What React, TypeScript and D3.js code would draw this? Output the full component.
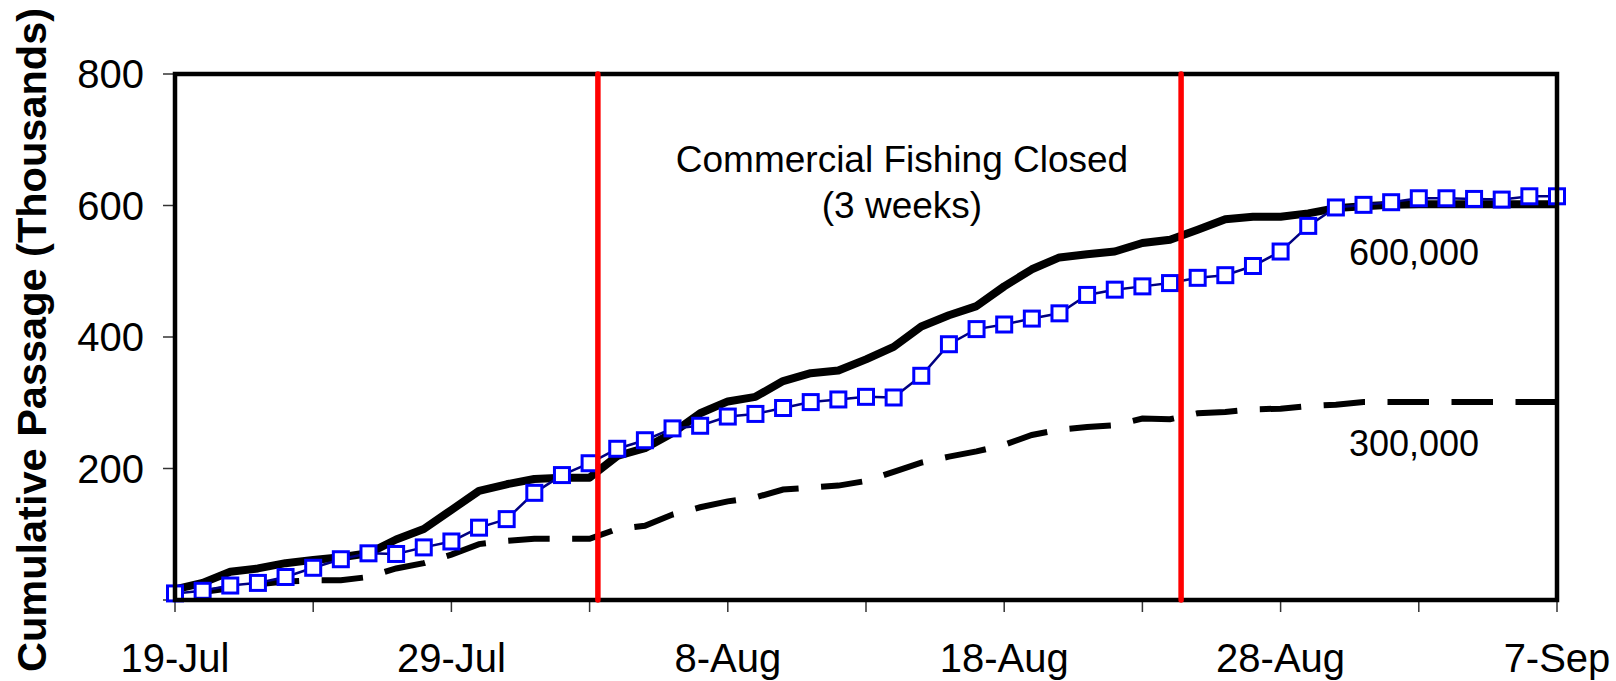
import React from "react";
import * as d3 from "d3";

const W = 1616;
const H = 681;

// x: day index since 19-Jul
const days = [0,1,2,3,4,5,6,7,8,9,10,11,12,13,14,15,16,17,18,19,20,21,22,23,24,25,26,27,28,29,30,31,32,33,34,35,36,37,38,39,40,41,42,43,44,45,46,47,48,49,50];

// Observed cumulative passage (blue squares), thousands
const observed = [10,14,22,26,35,49,62,71,70,80,89,110,123,163,190,208,230,243,261,265,279,283,292,301,305,309,308,341,389,412,419,428,436,464,472,477,482,490,494,508,530,569,597,601,605,611,611,610,609,614,614];

// Projected run of 600,000 (solid black), thousands
const run600 = [16,26,43,48,56,61,65,71,92,108,137,166,176,184,186,186,219,231,254,284,302,309,333,345,349,366,385,416,433,447,477,503,521,526,530,543,548,563,579,583,583,588,596,599,601,602,602,602,602,602,602];

// Projected run of 300,000 (dashed black), thousands
const run300 = [8,12,18,24,28,30,30,35,48,56,69,85,90,93,93,93,108,113,130,141,150,156,168,171,174,181,195,209,218,226,236,251,259,263,266,276,275,284,286,290,291,295,297,301,301,301,301,301,301,301,301];

// Commercial fishing closure boundaries (day index)
const closureDays = [15.3, 36.4];

const xMinorTicks = [0,5,10,15,20,25,30,35,40,45,50];
const xLabelDays = [0,10,20,30,40,50];
const xLabels = ["19-Jul","29-Jul","8-Aug","18-Aug","28-Aug","7-Sep"];
const yTicks = [0,200,400,600,800];
const yLabels = ["","200","400","600","800"];

const FONT = "'Liberation Sans', Arial, Helvetica, sans-serif";

export default function App() {
  const left = 175, right = 1557, top = 74, bottom = 600;
  const x = d3.scaleLinear().domain([0, 50]).range([left, right]);
  const y = d3.scaleLinear().domain([0, 800]).range([bottom, top]);

  const line = d3.line<number>().x((_, i) => x(days[i])).y((v) => y(v)).curve(d3.curveLinear);

  // dash phase so that the pattern ends with a complete dash at the right border
  const dashLen = 41.5, gapLen = 22.5, period = dashLen + gapLen;
  let L = 0;
  for (let i = 1; i < days.length; i++) {
    L += Math.hypot(x(days[i]) - x(days[i - 1]), y(run300[i]) - y(run300[i - 1]));
  }
  const dashOffset = (((dashLen - (L % period)) % period) + period) % period;

  const sq = 15;

  return (
    <svg width={W} height={H} style={{ position: "absolute", left: 0, top: 0, display: "block", background: "#fff" }} fontFamily={FONT}>
      <rect x={0} y={0} width={W} height={H} fill="#fff" />

      {/* y axis title */}
      <text transform={`translate(46,340) rotate(-90)`} textAnchor="middle" fontSize={41.5} fontWeight="bold" fill="#000">
        Cumulative Passage (Thousands)
      </text>

      {/* y ticks */}
      {yTicks.map((t, i) => (
        <g key={"yt" + t}>
          <line x1={left - 12} x2={left} y1={y(t)} y2={y(t)} stroke="#333" strokeWidth={1.5} />
          {yLabels[i] && (
            <text x={144} y={y(t)} dy="0.355em" textAnchor="end" fontSize={40} fill="#000">{yLabels[i]}</text>
          )}
        </g>
      ))}

      {/* x ticks */}
      {xMinorTicks.map((t) => (
        <line key={"xt" + t} x1={x(t)} x2={x(t)} y1={bottom} y2={bottom + 12} stroke="#333" strokeWidth={1.5} />
      ))}
      {xLabelDays.map((t, i) => (
        <text key={"xl" + t} x={x(t)} y={672} textAnchor="middle" fontSize={40} fill="#000">{xLabels[i]}</text>
      ))}

      {/* series */}
      <path d={line(run300) || ""} fill="none" stroke="#000" strokeWidth={6} strokeDasharray={`${dashLen} ${gapLen}`} strokeDashoffset={dashOffset} />
      <path d={line(run600) || ""} fill="none" stroke="#000" strokeWidth={8} strokeLinejoin="round" />
      <path d={line(observed) || ""} fill="none" stroke="#000080" strokeWidth={2.5} />
      {observed.map((v, i) => (
        <rect key={"sq" + i} x={x(days[i]) - sq / 2} y={y(v) - sq / 2} width={sq} height={sq} fill="#fff" stroke="#0000ff" strokeWidth={3} />
      ))}

      {/* frame */}
      <rect x={left} y={top} width={right - left} height={bottom - top} fill="none" stroke="#000" strokeWidth={4.5} />

      {/* closure lines */}
      {closureDays.map((d) => (
        <line key={"cl" + d} x1={x(d)} x2={x(d)} y1={top} y2={bottom} stroke="#ff0000" strokeWidth={5.5} strokeLinecap="round" />
      ))}

      {/* annotations */}
      <text x={902} y={171.5} textAnchor="middle" fontSize={37} fill="#000">Commercial Fishing Closed</text>
      <text x={902} y={218} textAnchor="middle" fontSize={37} fill="#000">(3 weeks)</text>
      <text x={1414} y={265} textAnchor="middle" fontSize={36} fill="#000">600,000</text>
      <text x={1414} y={456} textAnchor="middle" fontSize={36} fill="#000">300,000</text>
    </svg>
  );
}
